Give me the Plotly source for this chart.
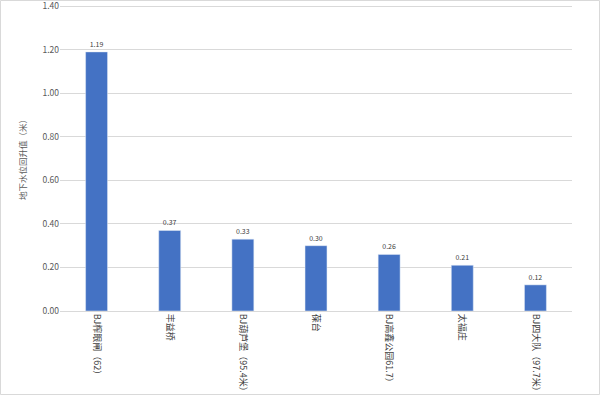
import plotly.graph_objects as go

categories = ["BJ榨眼闸（62）", "丰益桥", "BJ葫芦堡（95.4米）", "葆台", "BJ高鑫公园61.7）", "太福庄", "BJ四大队（97.7米）"]
values = [1.19, 0.37, 0.33, 0.30, 0.26, 0.21, 0.12]
y_ticks = [0, 0.2, 0.4, 0.6, 0.8, 1.0, 1.2, 1.4]

font_family = "Microsoft YaHei, Noto Sans CJK SC, sans-serif"

fig = go.Figure(go.Bar(
    x=categories, y=values,
    marker=dict(color="#4472C4"),
    text=[f"{v:.2f}" for v in values],
    textposition="outside",
    textfont=dict(size=7, color="#404040", family=font_family),
    cliponaxis=False,
))

L, R, T, B = 60, 28, 4, 84
W, H = 600, 395
pw, ph = W - L - R, H - T - B

fig.update_layout(
    width=W, height=H,
    margin=dict(l=L, r=R, t=T, b=B),
    paper_bgcolor="white", plot_bgcolor="white",
    bargap=0.7,
    showlegend=False,
    font=dict(family=font_family, color="#595959"),
    xaxis=dict(
        tickangle=90, tickfont=dict(size=9, color="#404040"),
        showline=True, linecolor="#d9d9d9", linewidth=1,
        ticks="", showgrid=False, automargin=False,
    ),
    yaxis=dict(
        range=[0, 1.41], tickmode="array", tickvals=y_ticks,
        ticktext=[f"{v:.2f}" for v in y_ticks],
        ticklabeloverflow="allow",
        tickfont=dict(size=8.5, color="#595959"),
        showgrid=True, gridcolor="#d9d9d9", gridwidth=1,
        zeroline=False, showline=False, ticks="", automargin=False,
        title=dict(text="地下水位回升值（米）", font=dict(size=8.5, color="#595959"), standoff=14),
    ),
    shapes=[dict(
        type="rect", xref="paper", yref="paper",
        x0=(0.5 - L) / pw, x1=(W - 0.5 - L) / pw,
        y0=-(B - 0.5) / ph, y1=(ph + T - 0.5) / ph,
        line=dict(color="#d9d9d9", width=1), fillcolor="rgba(0,0,0,0)",
    )],
)

fig.write_html(
    "out.html",
    config={"displayModeBar": False},
    post_script="document.body.style.margin='0';document.body.style.overflow='hidden';",
)
